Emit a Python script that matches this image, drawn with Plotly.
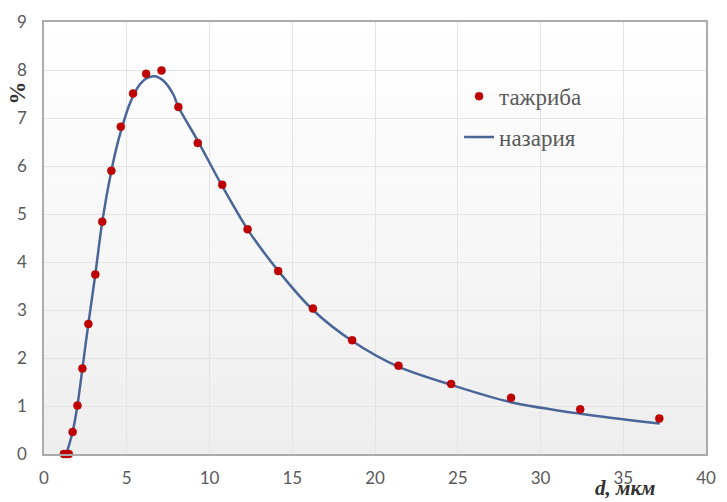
import plotly.graph_objects as go

# Experimental points (тажриба)
exp_x = [1.20, 1.35, 1.50, 1.73, 2.02, 2.32, 2.68, 3.10, 3.52, 4.07, 4.64, 5.38, 6.17, 7.10,
         8.12, 9.29, 10.77, 12.30, 14.15, 16.25, 18.62, 21.42, 24.60, 28.22, 32.40, 37.18]
exp_y = [0.00, 0.00, 0.00, 0.46, 1.01, 1.78, 2.71, 3.74, 4.84, 5.90, 6.82, 7.51, 7.92, 7.99,
         7.23, 6.48, 5.61, 4.68, 3.81, 3.03, 2.37, 1.84, 1.46, 1.17, 0.93, 0.74]

# Theoretical curve (назария)
theory_x = [1.35, 1.73, 2.02, 2.32, 2.68, 3.10, 3.52, 4.07, 4.52, 5.22, 5.81, 6.21, 6.71, 7.20,
            7.80, 8.12, 9.30, 10.77, 12.30, 14.17, 16.25, 18.60, 21.40, 24.60, 28.20, 32.40, 37.20]
theory_y = [0.00, 0.46, 1.01, 1.78, 2.71, 3.74, 4.84, 5.90, 6.57, 7.33, 7.71, 7.83, 7.87, 7.78,
            7.50, 7.23, 6.52, 5.58, 4.68, 3.81, 3.00, 2.36, 1.82, 1.44, 1.08, 0.84, 0.635]

x_ticks = [0, 5, 10, 15, 20, 25, 30, 35, 40]
y_ticks = [0, 1, 2, 3, 4, 5, 6, 7, 8, 9]

fig = go.Figure()
fig.add_trace(go.Scatter(
    x=theory_x, y=theory_y, mode="lines", name="назария",
    line=dict(color="#4A6698", width=2.5, shape="spline", smoothing=0.8),
    legendgroup="b", legendrank=2))
fig.add_trace(go.Scatter(
    x=exp_x, y=exp_y, mode="markers", name="тажриба",
    marker=dict(color="#C00000", size=8, line=dict(color="#B00000", width=0.5)),
    cliponaxis=False, legendgroup="a", legendrank=1))

# subtle vertical gradient in the plot area
n = 30
shapes = []
for i in range(n):
    t = i / (n - 1)
    v = int(round(255 - 17 * t))
    shapes.append(dict(type="rect", xref="paper", yref="paper",
                       x0=0, x1=1, y0=1 - (i + 1) / n, y1=1 - i / n,
                       fillcolor=f"rgb({v},{v},{v})", line=dict(width=0), layer="below"))

fig.update_layout(
    width=727, height=502,
    margin=dict(l=44, r=11, t=19, b=48),
    paper_bgcolor="white", plot_bgcolor="white",
    shapes=shapes,
    showlegend=True,
    legend=dict(x=0.627, y=0.878, xanchor="left", yanchor="top",
                font=dict(family="Liberation Serif", size=23, color="#595959"),
                bgcolor="rgba(0,0,0,0)", traceorder="grouped", tracegroupgap=8,
                itemwidth=30),
    xaxis=dict(range=[0, 40], tickvals=x_ticks, showgrid=True, gridcolor="#E4E4E4", gridwidth=1,
               zeroline=False, showline=True, linecolor="#ABABAB", linewidth=1.5, mirror=True,
               tickfont=dict(family="Lato", size=17, color="#595959"), ticks="",
               ticklabelstandoff=8),
    yaxis=dict(range=[0, 9], tickvals=y_ticks, showgrid=True, gridcolor="#E4E4E4", gridwidth=1,
               zeroline=False, showline=True, linecolor="#ABABAB", linewidth=1.5, mirror=True,
               tickfont=dict(family="Lato", size=17, color="#595959"), ticks="",
               ticklabelstandoff=12),
    annotations=[
        dict(text="<b>%</b>", xref="paper", yref="paper", x=-0.018, y=0.836,
             xanchor="right", yanchor="middle", showarrow=False, textangle=-90,
             font=dict(family="Liberation Serif", size=23, color="#333333")),
        dict(text="<b><i>d, мкм</i></b>", xref="paper", yref="paper", x=0.878, y=-0.079,
             xanchor="center", yanchor="middle", showarrow=False,
             font=dict(family="Liberation Serif", size=21, color="#333333")),
    ],
)

fig.write_html("out.html", config={"displayModeBar": False},
               post_script="document.body.style.margin='0';document.body.style.padding='0';")
